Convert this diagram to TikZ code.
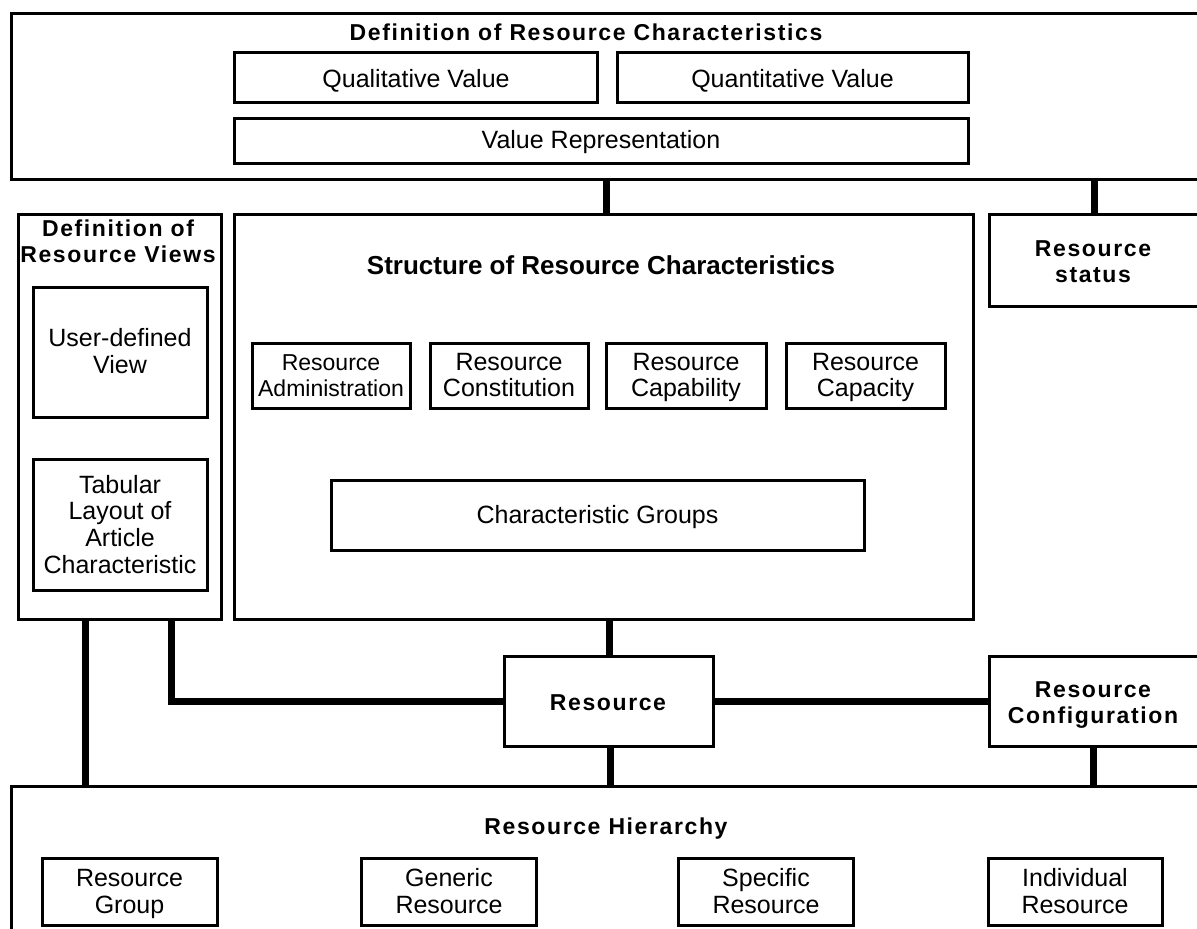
\documentclass[tikz,border=0pt]{standalone}
\usepackage{fontspec}
\setmainfont{Liberation Sans}
\newfontfamily\tfont{Liberation Sans}[LetterSpace=7]
\newcommand\ml[1]{\begin{tabular}[t]{@{}c@{}}#1\end{tabular}}
\begin{document}
\begin{tikzpicture}[x=1pt,y=-1pt,
  box/.style={draw, line width=3pt, inner sep=0pt, outer sep=0pt},
  tx/.style={anchor=base, inner sep=0pt, font=\fontsize{25}{26.7}\selectfont},
  txs/.style={anchor=base, inner sep=0pt, font=\fontsize{23}{26.7}\selectfont},
  bt/.style={anchor=base, inner sep=0pt, font=\tfont\bfseries\fontsize{23}{26.5}\selectfont},
  st/.style={anchor=base, inner sep=0pt, font=\bfseries\fontsize{26}{29}\selectfont},
  conn/.style={line width=7pt}]
\useasboundingbox (0,0) rectangle (1197,929);
\clip (0,0) rectangle (1197,929);
% top block
\node[box, minimum width=1199pt, minimum height=166pt] (defc) at (610.5,96) {};
\node[bt] (defct) at (586,40) {Definition of Resource Characteristics};
\node[box, minimum width=363pt, minimum height=50pt] (qual) at (415.5,77) {};
\node[tx] (qualt) at (416,87) {Qualitative Value};
\node[box, minimum width=351pt, minimum height=50pt] (quant) at (792.5,77) {};
\node[tx] (quantt) at (792.5,87) {Quantitative Value};
\node[box, minimum width=734pt, minimum height=45pt] (valrep) at (601,140.5) {};
\node[tx] (valrept) at (601,148) {Value Representation};
% views
\node[box, minimum width=203pt, minimum height=405pt] (views) at (119.5,416.5) {};
\node[bt] (viewst) at (118,236) {\ml{Definition of\\Resource Views}};
\node[box, minimum width=174pt, minimum height=130pt] (user) at (120,352) {};
\node[tx] (usert) at (120,346.7) {\ml{User-defined\\View}};
\node[box, minimum width=174pt, minimum height=131pt] (tab) at (120,524.5) {};
\node[tx] (tabt) at (120,493) {\ml{Tabular\\Layout of\\Article\\Characteristic}};
% structure
\node[box, minimum width=739pt, minimum height=405pt] (struct) at (603.5,416.5) {};
\node[st] (structt) at (601,274) {Structure of Resource Characteristics};
\node[box, minimum width=158pt, minimum height=65pt] (adm) at (331,375.5) {};
\node[txs] (admt) at (331,370) {\ml{Resource\\Administration}};
\node[box, minimum width=158pt, minimum height=65pt] (con) at (509,375.5) {};
\node[tx] (cont) at (509,370) {\ml{Resource\\Constitution}};
\node[box, minimum width=160pt, minimum height=65pt] (cap) at (686,375.5) {};
\node[tx] (capt) at (686,370) {\ml{Resource\\Capability}};
\node[box, minimum width=159pt, minimum height=65pt] (capa) at (865.5,375.5) {};
\node[tx] (capat) at (865.5,370) {\ml{Resource\\Capacity}};
\node[box, minimum width=533pt, minimum height=70pt] (cg) at (597.5,515) {};
\node[tx] (cgt) at (597.5,523) {Characteristic Groups};
% status
\node[box, minimum width=221pt, minimum height=92pt] (status) at (1099.5,260) {};
\node[bt] (statust) at (1093,256) {\ml{Resource\\status}};
% resource
\node[box, minimum width=209pt, minimum height=90pt] (res) at (608.5,701) {};
\node[bt] (rest) at (608,710) {Resource};
% configuration
\node[box, minimum width=221pt, minimum height=90pt] (conf) at (1099.5,701) {};
\node[bt] (conft) at (1093,697.3) {\ml{Resource\\Configuration}};
% hierarchy
\node[box, minimum width=1199pt, minimum height=159pt] (hier) at (610.5,865.5) {};
\node[bt] (hiert) at (606,834) {Resource Hierarchy};
\node[box, minimum width=175pt, minimum height=67pt] (grp) at (129.5,891.5) {};
\node[tx] (grpt) at (129.5,886.7) {\ml{Resource\\Group}};
\node[box, minimum width=175pt, minimum height=67pt] (gen) at (449,891.5) {};
\node[tx] (gent) at (449,886.7) {\ml{Generic\\Resource}};
\node[box, minimum width=175pt, minimum height=67pt] (spec) at (766,891.5) {};
\node[tx] (spect) at (766,886.7) {\ml{Specific\\Resource}};
\node[box, minimum width=174pt, minimum height=67pt] (ind) at (1075,891.5) {};
\node[tx] (indt) at (1075,886.7) {\ml{Individual\\Resource}};
% connectors
\draw[conn] (defc.south -| 606,0) -- (struct.north -| 606,0);
\draw[conn] (defc.south -| 1094,0) -- (status.north -| 1094,0);
\draw[conn] (struct.south -| 609,0) -- (res.north -| 609,0);
\draw[conn] (res.south -| 610,0) -- (hier.north -| 610,0);
\draw[conn] (res.east) -- (conf.west);
\draw[conn] (views.south -| 171,0) |- (res.west);
\draw[conn] (views.south -| 85,0) -- (hier.north -| 85,0);
\draw[conn] (conf.south -| 1093,0) -- (hier.north -| 1093,0);
\end{tikzpicture}
\end{document}
